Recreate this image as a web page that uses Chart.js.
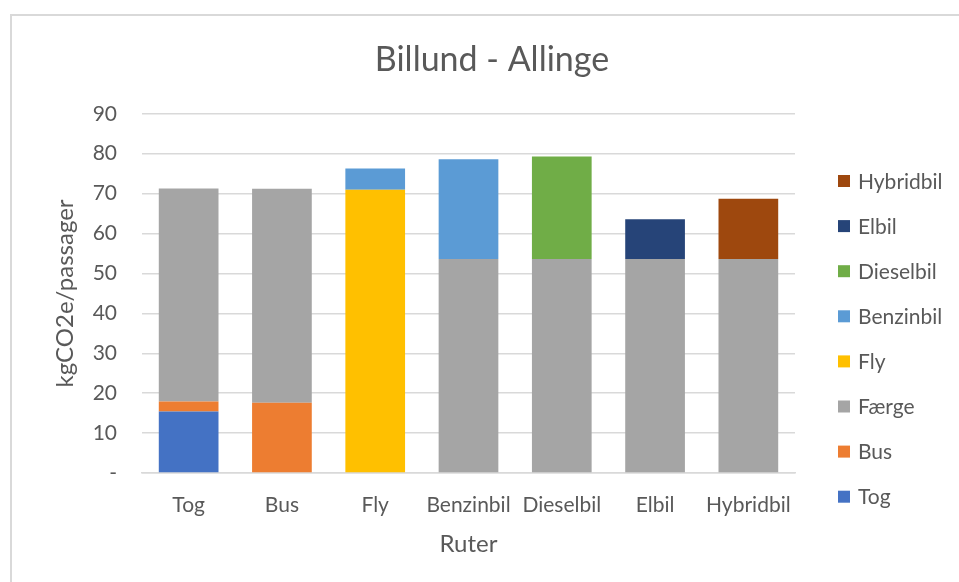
<!DOCTYPE html>
<html lang="da">
  <head>
    <meta charset="UTF-8" />
    <title>Billund - Allinge</title>
    <script src="https://cdn.jsdelivr.net/npm/chart.js"></script>
    <style>
      body {
        margin: 0;
        background: #fff;
        font-family: "Lato", sans-serif;
      }
      .frame {
        position: absolute;
        left: 10px;
        top: 14px;
        width: 1000px;
        height: 700px;
        border: 2px solid #d9d9d9;
        box-sizing: border-box;
      }
      .wrap {
        position: absolute;
        left: 0;
        top: 0;
        width: 959px;
        height: 582px;
      }
    </style>
  </head>
  <body>
    <div class="frame"></div>
    <div class="wrap">
      <canvas id="chart" width="959" height="582"></canvas>
    </div>

    <script>
      // routes on the x axis
      var routes = ["Tog", "Bus", "Fly", "Benzinbil", "Dieselbil", "Elbil", "Hybridbil"];

      // emissions per leg, kgCO2e per passenger
      var tog = [15.4, null, null, null, null, null, null];
      var bus = [2.5, 17.6, null, null, null, null, null];
      var faerge = [53.4, 53.6, null, 53.6, 53.6, 53.6, 53.6];
      var fly = [null, null, 71.0, null, null, null, null];
      var benzinbil = [null, null, 5.3, 25.0, null, null, null];
      var dieselbil = [null, null, null, null, 25.7, null, null];
      var elbil = [null, null, null, null, null, 10.0, null];
      var hybridbil = [null, null, null, null, null, null, 15.1];

      var yTicks = [0, 10, 20, 30, 40, 50, 60, 70, 80, 90];

      var textColor = "#595959";
      var gridColor = "#d9d9d9";

      // legend drawn on the right, last series on top like Excel
      var sideLegend = {
        id: "sideLegend",
        afterDraw: function (chart) {
          var ctx = chart.ctx;
          var sets = chart.data.datasets.slice().reverse();
          ctx.save();
          ctx.font = "21px Lato";
          ctx.textBaseline = "middle";
          ctx.textAlign = "left";
          sets.forEach(function (ds, i) {
            var y = 181 + i * 45.1;
            ctx.fillStyle = ds.backgroundColor;
            ctx.fillRect(838, y - 6, 12, 12);
            ctx.fillStyle = textColor;
            ctx.fillText(ds.label, 858, y + 1);
          });
          ctx.restore();
        },
      };

      function series(label, data, color) {
        return {
          label: label,
          data: data,
          backgroundColor: color,
          borderWidth: 0,
          stack: "s",
        };
      }

      new Chart(document.getElementById("chart").getContext("2d"), {
        type: "bar",
        data: {
          labels: routes,
          datasets: [
            series("Tog", tog, "#4472c4"),
            series("Bus", bus, "#ed7d31"),
            series("Færge", faerge, "#a5a5a5"),
            series("Fly", fly, "#ffc000"),
            series("Benzinbil", benzinbil, "#5b9bd5"),
            series("Dieselbil", dieselbil, "#70ad47"),
            series("Elbil", elbil, "#264478"),
            series("Hybridbil", hybridbil, "#9e480e"),
          ],
        },
        options: {
          responsive: false,
          animation: false,
          layout: {
            padding: { left: 50, right: 25, top: 40, bottom: 20 },
          },
          datasets: {
            bar: { categoryPercentage: 1, barPercentage: 0.64 },
          },
          plugins: {
            legend: { display: false },
            tooltip: { enabled: false },
            title: {
              display: true,
              text: "Billund - Allinge",
              color: textColor,
              font: { family: "Lato", size: 34, weight: "normal" },
              padding: { top: 0, bottom: 33 },
            },
          },
          scales: {
            x: {
              stacked: true,
              afterFit: function (s) {
                s.height = 89;
              },
              grid: { display: false, drawTicks: false },
              border: { color: gridColor, width: 1.5 },
              ticks: {
                color: textColor,
                font: { family: "Lato", size: 21 },
                padding: 20,
              },
              title: {
                display: true,
                text: "Ruter",
                color: textColor,
                font: { family: "Lato", size: 24 },
                padding: { top: 10, bottom: 3 },
              },
            },
            y: {
              stacked: true,
              min: 0,
              max: 90,
              afterFit: function (s) {
                s.width = 92;
              },
              afterBuildTicks: function (s) {
                s.ticks = yTicks.map(function (v) {
                  return { value: v };
                });
              },
              grid: { color: gridColor, lineWidth: 1.5, drawTicks: false },
              border: { display: false },
              ticks: {
                color: textColor,
                font: { family: "Lato", size: 21 },
                padding: 25,
                callback: function (v) {
                  return v === 0 ? "-" : v;
                },
              },
              title: {
                display: true,
                text: "kgCO2e/passager",
                color: textColor,
                font: { family: "Lato", size: 24 },
                padding: { top: 1, bottom: 0 },
              },
            },
            // empty right axis, keeps room for the legend
            yr: {
              position: "right",
              display: true,
              afterFit: function (s) {
                s.width = 139;
              },
              grid: { display: false, drawTicks: false },
              border: { display: false },
              ticks: { display: false },
            },
          },
        },
        plugins: [sideLegend],
      });
    </script>
  </body>
</html>
